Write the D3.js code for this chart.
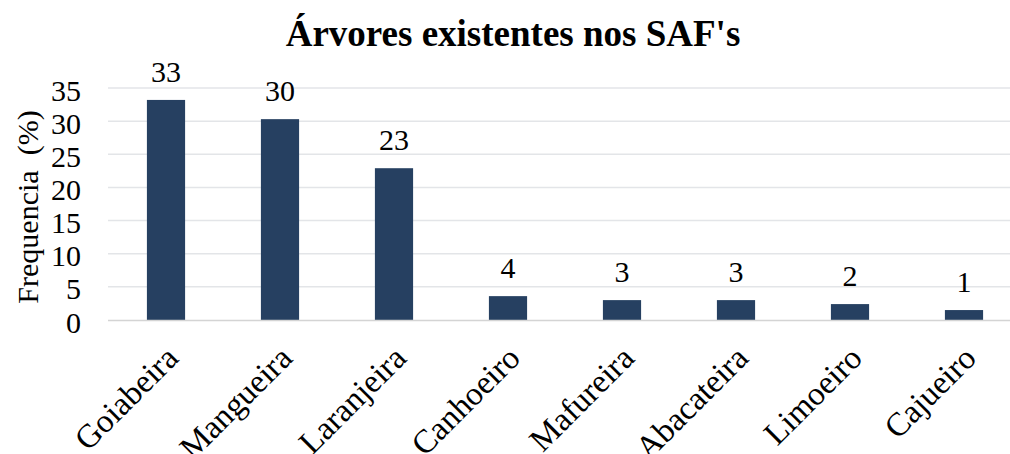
<!DOCTYPE html>
<html>
<head>
<meta charset="utf-8">
<script src="https://cdn.jsdelivr.net/npm/d3@7"></script>
<style>
  body { margin: 0; background: #fff; }
  text { font-family: "Liberation Serif", "Times New Roman", serif; fill: #000; }
</style>
</head>
<body>
<div id="chart"></div>
<script>
// data
var categories = ["Goiabeira", "Mangueira", "Laranjeira", "Canhoeiro", "Mafureira", "Abacateira", "Limoeiro", "Cajueiro"];
var values = [33.2, 30.3, 22.9, 3.6, 3.0, 3.0, 2.4, 1.5];
var valueLabels = ["33", "30", "23", "4", "3", "3", "2", "1"];
var yTicks = [0, 5, 10, 15, 20, 25, 30, 35];

var svgWidth = 1010;
var svgHeight = 454;

var svg = d3.select("#chart")
  .append("svg")
  .attr("width", svgWidth)
  .attr("height", svgHeight);

// scales
var x = d3.scaleBand()
  .domain(categories)
  .range([109, 1021])
  .paddingInner(0.665)
  .paddingOuter(0.3325);

var y = d3.scaleLinear()
  .domain([0, 35])
  .range([320, 88]);

// gridlines
svg.append("g")
  .selectAll("line")
  .data(yTicks.slice(1))
  .enter()
  .append("line")
  .attr("x1", 108)
  .attr("x2", svgWidth)
  .attr("y1", d => y(d))
  .attr("y2", d => y(d))
  .attr("stroke", "#e3e5e8")
  .attr("stroke-width", 1.5);

// y axis labels
var leftAxis = d3.axisLeft(y).tickValues(yTicks).tickSize(0).tickPadding(0);
var yAxis = svg.append("g")
  .attr("transform", "translate(81,0)")
  .call(leftAxis);
yAxis.select(".domain").remove();
yAxis.selectAll("text")
  .style("font-family", "Liberation Serif")
  .style("font-size", "30px")
  .attr("dy", "0.4em");

// bars
svg.append("g")
  .selectAll("rect")
  .data(values)
  .enter()
  .append("rect")
  .attr("x", (d, i) => x(categories[i]))
  .attr("y", d => y(d))
  .attr("width", x.bandwidth())
  .attr("height", d => y(0) - y(d))
  .attr("fill", "#264061");

// baseline
svg.append("line")
  .attr("x1", 108)
  .attr("x2", svgWidth)
  .attr("y1", y(0) + 0.5)
  .attr("y2", y(0) + 0.5)
  .attr("stroke", "#d4d4d4")
  .attr("stroke-width", 1.5);

// value labels
svg.append("g")
  .selectAll("text")
  .data(valueLabels)
  .enter()
  .append("text")
  .attr("x", (d, i) => x(categories[i]) + x.bandwidth() / 2)
  .attr("y", (d, i) => y(values[i]) - 18)
  .attr("text-anchor", "middle")
  .style("font-size", "30px")
  .text(d => d);

// category labels, rotated
svg.append("g")
  .selectAll("text")
  .data(categories)
  .enter()
  .append("text")
  .attr("transform", d => `translate(${x(d) + x.bandwidth() / 2 + 14}, 360) rotate(-45)`)
  .attr("text-anchor", "end")
  .style("font-size", "33px")
  .text(d => d);

// y axis title
svg.append("text")
  .attr("transform", `translate(38, ${(y(0) + y(35)) / 2 + 3}) rotate(-90)`)
  .attr("text-anchor", "middle")
  .style("font-size", "30px")
  .style("white-space", "pre")
  .text("Frequencia  (%)");

// chart title
svg.append("text")
  .attr("x", 513)
  .attr("y", 46)
  .attr("text-anchor", "middle")
  .style("font-size", "37px")
  .style("font-weight", "bold")
  .text("Árvores existentes nos SAF's");
</script>
</body>
</html>
